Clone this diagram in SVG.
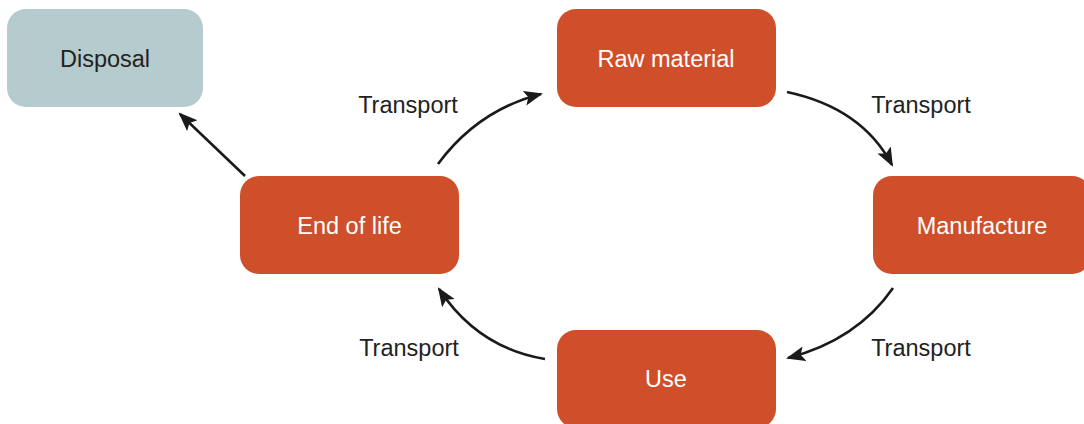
<svg xmlns="http://www.w3.org/2000/svg" width="1084" height="424" viewBox="0 0 1084 424">
  <style>
    .box { fill: #CF4F2A; }
    .box-grey { fill: #B5CBCD; }
    .lbl { font-family: "Liberation Sans", Arial, sans-serif; font-size: 23.5px; text-anchor: middle; }
    .lbl-w { fill: #FFFFFF; }
    .lbl-d { fill: #222222; }
    .edge { fill: none; stroke: #1A1A1A; stroke-width: 2.6; }
  </style>
  <defs>
    <marker id="arrow" markerUnits="userSpaceOnUse" markerWidth="22" markerHeight="18" refX="17" refY="7.5" orient="auto">
      <path d="M0,0 L19,7.5 L0,15 L4,7.5 Z" fill="#1A1A1A"/>
    </marker>
  </defs>

  <!-- nodes -->
  <g id="disposal">
    <rect class="box-grey" x="7" y="9" width="196" height="98" rx="19"/>
    <text class="lbl lbl-d" x="105" y="67">Disposal</text>
  </g>
  <g id="raw-material">
    <rect class="box" x="557" y="9" width="219" height="98" rx="19"/>
    <text class="lbl lbl-w" x="666" y="67">Raw material</text>
  </g>
  <g id="manufacture">
    <rect class="box" x="873" y="176" width="218" height="98" rx="19"/>
    <text class="lbl lbl-w" x="982" y="234">Manufacture</text>
  </g>
  <g id="end-of-life">
    <rect class="box" x="240" y="176" width="219" height="98" rx="19"/>
    <text class="lbl lbl-w" x="349.5" y="234">End of life</text>
  </g>
  <g id="use">
    <rect class="box" x="557" y="330" width="219" height="98" rx="19"/>
    <text class="lbl lbl-w" x="666" y="387">Use</text>
  </g>

  <!-- connectors -->
  <g id="connectors">
    <path class="edge" d="M245,176 L180,114" marker-end="url(#arrow)"/>
    <path class="edge" d="M438,164 Q478,110 541,94" marker-end="url(#arrow)"/>
    <path class="edge" d="M787,92 Q862,108 892,165" marker-end="url(#arrow)"/>
    <path class="edge" d="M893,288 Q857,340 788,358" marker-end="url(#arrow)"/>
    <path class="edge" d="M545,359 Q478,348 439,289" marker-end="url(#arrow)"/>
  </g>

  <!-- connector labels -->
  <g id="edge-labels">
    <text class="lbl lbl-d" x="408" y="113">Transport</text>
    <text class="lbl lbl-d" x="921" y="113">Transport</text>
    <text class="lbl lbl-d" x="921" y="356">Transport</text>
    <text class="lbl lbl-d" x="409" y="356">Transport</text>
  </g>
</svg>
